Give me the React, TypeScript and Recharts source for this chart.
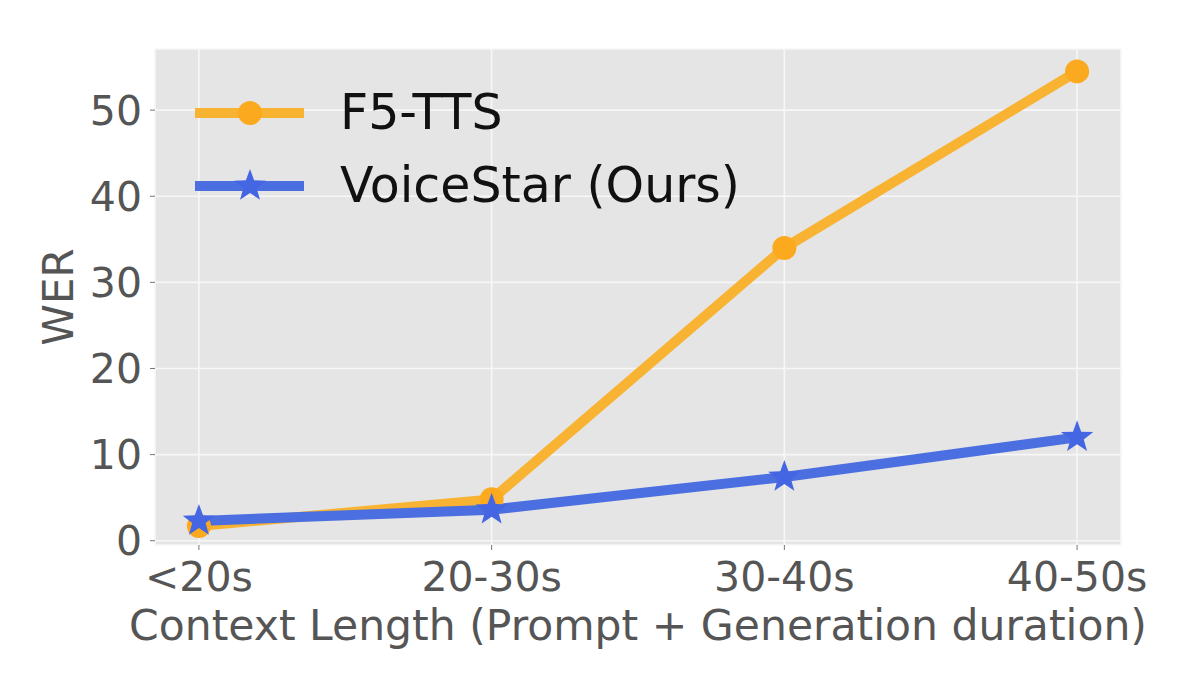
import React from 'react';
import { LineChart, Line, XAxis, YAxis, CartesianGrid } from 'recharts';

const categories = ['<20s', '20-30s', '30-40s', '40-50s'];
const f5tts = [1.7, 4.8, 34.0, 54.5];
const voiceStar = [2.3, 3.6, 7.4, 12.0];
const yTicks = [0, 10, 20, 30, 40, 50];
const seriesNames = ['F5-TTS', 'VoiceStar (Ours)'];

const data = categories.map((c, i) => ({ idx: i, cat: c, f5: f5tts[i], vs: voiceStar[i] }));

const FONT = '"DejaVu Sans", Verdana, sans-serif';
const ORANGE_LINE = '#F8B332';
const ORANGE_MARK = '#FBAA1F';
const BLUE_LINE = '#4B6FE0';
const BLUE_MARK = '#4466E3';

function starPath(cx: number, cy: number, R: number, r: number) {
  let d = '';
  for (let k = 0; k < 10; k++) {
    const rad = k % 2 === 0 ? R : r;
    const a = -Math.PI / 2 + (k * Math.PI) / 5;
    const x = cx + rad * Math.cos(a);
    const y = cy + rad * Math.sin(a);
    d += (k === 0 ? 'M' : 'L') + x.toFixed(2) + ',' + y.toFixed(2);
  }
  return d + 'Z';
}

const CircleDot = (props: any) => {
  const { cx, cy } = props;
  if (cx == null || cy == null) return null;
  return <circle cx={cx} cy={cy} r={12} fill={ORANGE_MARK} stroke="none" />;
};

const StarDot = (props: any) => {
  const { cx, cy } = props;
  if (cx == null || cy == null) return null;
  return <path d={starPath(cx, cy, 17, 7)} fill={BLUE_MARK} stroke="none" />;
};

const LegendOverlay = () => (
  <svg
    width={620}
    height={150}
    style={{ position: 'absolute', left: 190, top: 85, display: 'block', pointerEvents: 'none' }}
  >
    <line x1={5} y1={28} x2={114} y2={28} stroke={ORANGE_LINE} strokeWidth={10} />
    <circle cx={60} cy={28} r={12} fill={ORANGE_MARK} />
    <text x={150} y={27} dominantBaseline="central" fontFamily={FONT} fontSize={49} fill="#111">
      {seriesNames[0]}
    </text>
    <line x1={5} y1={101} x2={114} y2={101} stroke={BLUE_LINE} strokeWidth={10} />
    <path d={starPath(60, 101, 17, 7)} fill={BLUE_MARK} />
    <text x={150} y={100} dominantBaseline="central" fontFamily={FONT} fontSize={49} fill="#111">
      {seriesNames[1]}
    </text>
  </svg>
);

const XLabel = (props: any) => {
  const vb = props.viewBox || {};
  return (
    <text
      x={vb.x + vb.width / 2}
      y={vb.y + 95}
      textAnchor="middle"
      fontFamily={FONT}
      fontSize={42.5}
      fill="#555"
    >
      Context Length (Prompt + Generation duration)
    </text>
  );
};

const YLabel = (props: any) => {
  const vb = props.viewBox || {};
  const x = 73;
  const y = vb.y + vb.height / 2;
  return (
    <text
      x={x}
      y={y}
      transform={`rotate(-90 ${x} ${y})`}
      textAnchor="middle"
      fontFamily={FONT}
      fontSize={42}
      fill="#555"
    >
      WER
    </text>
  );
};

export default function App() {
  return (
    <div style={{ position: 'absolute', left: 0, top: 0, width: 1200, height: 698, background: '#fff' }}>
      <LineChart
        width={1200}
        height={698}
        data={data}
        margin={{ top: 49, right: 79, bottom: 0, left: 0 }}
      >
        <CartesianGrid fill="#E5E5E5" stroke="#F7F7F7" strokeWidth={1.6} fillOpacity={1} />
        <XAxis
          dataKey="idx"
          type="number"
          domain={[-0.15, 3.15]}
          ticks={[0, 1, 2, 3]}
          tickFormatter={(v: number) => categories[v]}
          height={153}
          axisLine={false}
          tickLine={{ stroke: '#777', strokeWidth: 1 }}
          tickSize={5}
          tickMargin={12}
          tick={{ fill: '#555', fontSize: 41, fontFamily: FONT }}
          interval={0}
          allowDataOverflow
          label={<XLabel />}
        />
        <YAxis
          type="number"
          domain={[-0.5, 57.1]}
          ticks={yTicks}
          width={155}
          axisLine={false}
          tickLine={{ stroke: '#777', strokeWidth: 1 }}
          tickSize={5}
          tickMargin={8}
          tick={{ fill: '#555', fontSize: 41, fontFamily: FONT }}
          interval={0}
          allowDataOverflow
          label={<YLabel />}
        />
        <Line
          type="linear"
          dataKey="f5"
          name={seriesNames[0]}
          stroke={ORANGE_LINE}
          strokeWidth={10}
          dot={<CircleDot />}
          activeDot={false}
          isAnimationActive={false}
        />
        <Line
          type="linear"
          dataKey="vs"
          name={seriesNames[1]}
          stroke={BLUE_LINE}
          strokeWidth={10}
          dot={<StarDot />}
          activeDot={false}
          isAnimationActive={false}
        />
      </LineChart>
      <LegendOverlay />
    </div>
  );
}
